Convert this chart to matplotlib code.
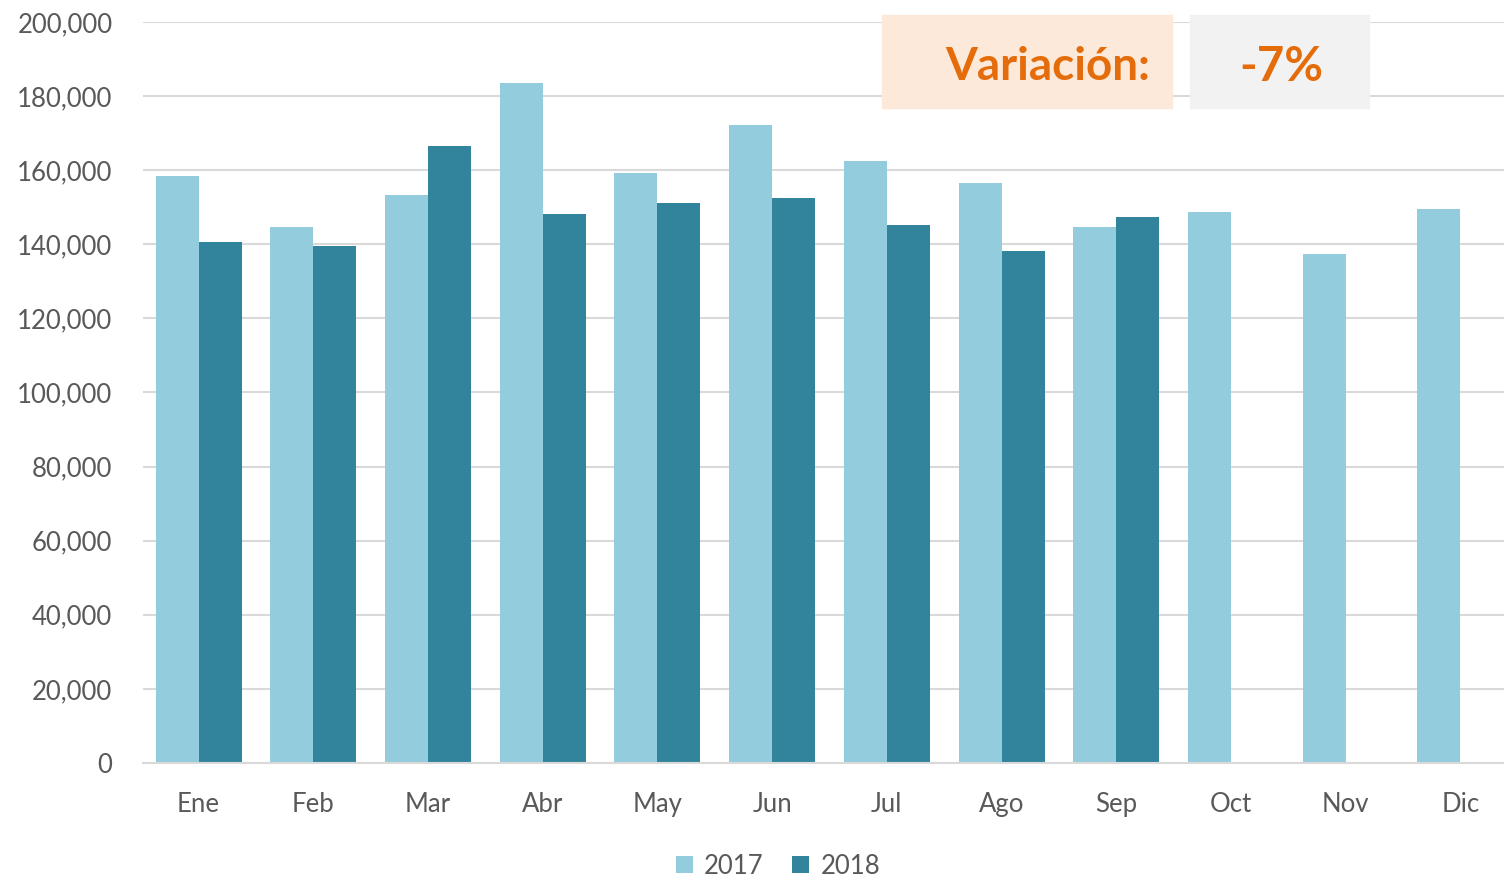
import matplotlib.pyplot as plt
import numpy as np
from matplotlib.patches import Rectangle

# Monthly values
months = ["Ene", "Feb", "Mar", "Abr", "May", "Jun", "Jul", "Ago", "Sep", "Oct", "Nov", "Dic"]
sales_2017 = [158500, 144800, 153400, 183500, 159300, 172300, 162500, 156600, 144800, 148800, 137500, 149400]
sales_2018 = [140500, 139600, 166400, 148300, 151200, 152600, 145300, 138300, 147500]
variation_label = "Variación:"
variation_value = "-7%"

light = "#93CCDD"
dark = "#31849B"
text_grey = "#595959"

plt.rcParams['font.family'] = ['Lato', 'DejaVu Sans']

fig = plt.figure(figsize=(15.04, 8.77), dpi=100)
ax = fig.add_axes([143 / 1504, 114 / 877, 1 - 143 / 1504, (763 - 22) / 877])

x = np.arange(len(months))
w = 0.375
ax.bar(x - w / 2, sales_2017, width=w, color=light, label="2017", zorder=3)
ax.bar(x[:len(sales_2018)] + w / 2, sales_2018, width=w, color=dark, label="2018", zorder=3)

ax.set_xlim(-0.484, 11.38)
ax.set_ylim(0, 200000)
ax.set_yticks(np.arange(0, 200001, 20000))
ax.yaxis.set_major_formatter(plt.FuncFormatter(lambda v, p: f"{int(v):,}"))
ax.set_xticks(x)
ax.set_xticklabels(months)
ax.tick_params(axis='both', length=0, labelsize=18.5, colors=text_grey)
ax.tick_params(axis='x', pad=21)
ax.tick_params(axis='y', pad=22)
ax.grid(axis='y', color="#D9D9D9", linewidth=1.5, zorder=0)
for s in ["top", "right", "left"]:
    ax.spines[s].set_visible(False)
ax.spines["bottom"].set_color("#D9D9D9")
ax.spines["bottom"].set_linewidth(1.5)
ax.spines["bottom"].set_zorder(4)

# variation boxes
fig.patches.append(Rectangle((882 / 1504, 1 - 108 / 877), 290 / 1504, 93 / 877,
                             transform=fig.transFigure, color="#FDE9DA", zorder=5))
fig.patches.append(Rectangle((1190 / 1504, 1 - 108 / 877), 179 / 1504, 93 / 877,
                             transform=fig.transFigure, color="#F2F2F2", zorder=5))
fig.text(1150 / 1504, 1 - 67 / 877, variation_label, ha="right", va="center",
         fontsize=33, fontweight="bold", color="#E46C0A", zorder=6)
fig.text(1281 / 1504, 1 - 67 / 877, variation_value, ha="center", va="center",
         fontsize=34, fontweight="bold", color="#E46C0A", zorder=6)

leg = fig.legend(loc="center", bbox_to_anchor=(778 / 1504, 1 - 866 / 877), ncol=2,
                 frameon=False, fontsize=18.5, handlelength=0.65, handleheight=0.65,
                 handletextpad=0.45, columnspacing=1.1)
for t in leg.get_texts():
    t.set_color(text_grey)

fig.savefig("out.png", dpi=100)
